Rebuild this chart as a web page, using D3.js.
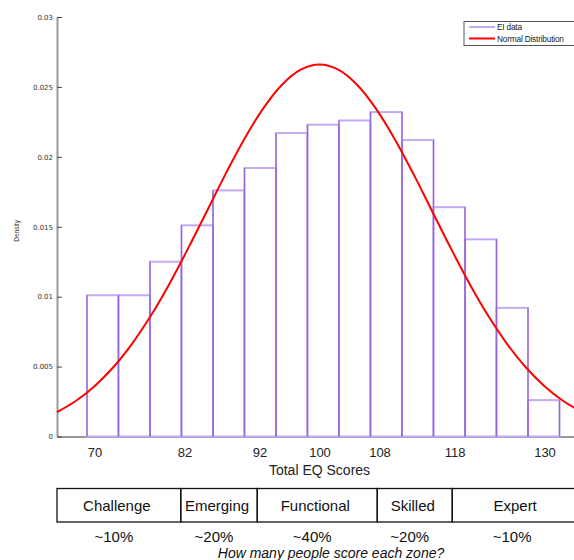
<!DOCTYPE html>
<html>
<head>
<meta charset="utf-8">
<script src="https://cdn.jsdelivr.net/npm/d3@7"></script>
<style>
  body { margin: 0; background: #fff; }
  svg { display: block; }
</style>
</head>
<body>
<div id="chart"></div>
<script>
// histogram bins (score edges) and density per bin
const binStarts = [69, 73.2, 77.4, 81.6, 85.8, 90, 94.2, 98.4, 102.6, 106.8, 111, 115.2, 119.4, 123.6, 127.8]
const binEnds = [73.2, 77.4, 81.6, 85.8, 90, 94.2, 98.4, 102.6, 106.8, 111, 115.2, 119.4, 123.6, 127.8, 132]
const binDensity = [0.0101, 0.0101, 0.0125, 0.0151, 0.0176, 0.0192, 0.0217, 0.0223, 0.0226, 0.0232, 0.0212, 0.0164, 0.0141, 0.0092, 0.0026]

// normal curve
const curveScores = [65, 67.5, 70, 72.5, 75, 77.5, 80, 82.5, 85, 87.5, 90, 92.5, 95, 97.5, 100,
  102.5, 105, 107.5, 110, 112.5, 115, 117.5, 120, 122.5, 125, 127.5, 130, 132.5, 135]
const curveDensity = [0.00175, 0.00254, 0.0036, 0.00495, 0.00663, 0.00863, 0.01093, 0.01347, 0.01613, 0.0188, 0.0213, 0.02347, 0.02516, 0.02623, 0.0266,
  0.02623, 0.02516, 0.02347, 0.0213, 0.0188, 0.01613, 0.01347, 0.01093, 0.00863, 0.00663, 0.00495, 0.0036, 0.00254, 0.00175]

const xTicks = [70, 82, 92, 100, 108, 118, 130]
const yTicks = [0, 0.005, 0.01, 0.015, 0.02, 0.025, 0.03]

const zoneNames = ['Challenge', 'Emerging', 'Functional', 'Skilled', 'Expert']
const zoneStarts = [65, 81.5, 91.7, 107.7, 117.7]
const zoneEnds = [81.5, 91.7, 107.7, 117.7, 135]
const zoneShares = ['~10%', '~20%', '~40%', '~20%', '~10%']

const legendLabels = ['EI data', 'Normal Distribution']
const legendColors = ['#c4aaf0', '#ff0000']

const margin = { top: 17, left: 57, right: 0, bottom: 124 }
const height = 560 - margin.top - margin.bottom + 0.5
const width = 525

const svg = d3
  .select('#chart')
  .append('svg')
  .attr('width', 574)
  .attr('height', 560)
  .append('g')
  .attr('transform', 'translate(' + margin.left + ',' + margin.top + ')')

const xPositionScale = d3.scaleLinear().domain([65, 135]).range([0, width])
const yPositionScale = d3.scaleLinear().domain([0, 0.03]).range([height, 0])

const font = "'Liberation Sans', Arial, sans-serif"

// axes
const xAxis = d3
  .axisBottom(xPositionScale)
  .tickValues(xTicks)
  .tickSize(-4)
  .tickSizeOuter(0)
  .tickPadding(11)
svg
  .append('g')
  .attr('class', 'axis x-axis')
  .attr('transform', 'translate(0,' + height + ')')
  .call(xAxis)

const yAxis = d3
  .axisLeft(yPositionScale)
  .tickValues(yTicks)
  .tickFormat(d => String(+d.toFixed(3)))
  .tickSize(-5)
  .tickSizeOuter(0)
  .tickPadding(4)
svg
  .append('g')
  .attr('class', 'axis y-axis')
  .call(yAxis)

svg.selectAll('.axis .domain').attr('stroke', '#999').attr('stroke-width', 2)
svg.selectAll('.axis .tick line').attr('stroke', '#444')
svg
  .selectAll('.x-axis text')
  .attr('font-family', font)
  .attr('font-size', 13)
  .attr('fill', '#222')
svg
  .selectAll('.y-axis text')
  .attr('font-family', "'DejaVu Sans', sans-serif")
  .attr('font-size', 7)
  .attr('fill', '#333')

// histogram bars
const bins = binDensity.map((d, i) => ({ x0: binStarts[i], x1: binEnds[i], density: d }))

svg
  .selectAll('.bar')
  .data(bins)
  .enter()
  .append('rect')
  .attr('class', 'bar')
  .attr('x', d => xPositionScale(d.x0))
  .attr('y', d => yPositionScale(d.density))
  .attr('width', d => xPositionScale(d.x1) - xPositionScale(d.x0))
  .attr('height', d => height - yPositionScale(d.density))
  .attr('fill', '#fff')
  .attr('stroke', '#c4aaf0')
  .attr('stroke-width', 2)

svg
  .selectAll('.bar-edge')
  .data(bins)
  .enter()
  .append('path')
  .attr('class', 'bar-edge')
  .attr('d', function(d) {
    const y = yPositionScale(d.density)
    return 'M' + xPositionScale(d.x0) + ',' + height + 'V' + y +
      'M' + xPositionScale(d.x1) + ',' + height + 'V' + y
  })
  .attr('stroke', '#9466dc')
  .attr('stroke-width', 1.2)
  .attr('fill', 'none')

// normal curve
const curvePoints = curveScores.map((d, i) => ({ score: d, density: curveDensity[i] }))
const line = d3
  .line()
  .x(d => xPositionScale(d.score))
  .y(d => yPositionScale(d.density))
  .curve(d3.curveCatmullRom)

svg
  .append('path')
  .datum(curvePoints)
  .attr('d', line)
  .attr('stroke', '#ff0000')
  .attr('stroke-width', 2)
  .attr('fill', 'none')

// y label
svg
  .append('text')
  .attr('transform', 'translate(-38,' + (yPositionScale(0.0147)) + ') rotate(-90)')
  .attr('text-anchor', 'middle')
  .attr('font-family', font)
  .attr('font-size', 6.5)
  .attr('fill', '#333')
  .text('Density')

// x label
svg
  .append('text')
  .attr('x', xPositionScale(100))
  .attr('y', height + 38.5)
  .attr('text-anchor', 'middle')
  .attr('font-family', font)
  .attr('font-size', 14)
  .attr('fill', '#222')
  .text('Total EQ Scores')

// legend
const legend = svg.append('g').attr('transform', 'translate(' + (464 - margin.left) + ',' + (21.5 - margin.top) + ')')
legend
  .append('rect')
  .attr('x', 0)
  .attr('y', 0)
  .attr('width', 120)
  .attr('height', 24)
  .attr('fill', '#fff')
  .attr('stroke', '#555')
  .attr('stroke-width', 1)
legendLabels.forEach((label, i) => {
  legend
    .append('line')
    .attr('x1', 5)
    .attr('x2', 31)
    .attr('y1', 5.5 + i * 11.5)
    .attr('y2', 5.5 + i * 11.5)
    .attr('stroke', legendColors[i])
    .attr('stroke-width', 2)
  legend
    .append('text')
    .attr('x', 33)
    .attr('y', 8.5 + i * 11.5)
    .attr('font-family', font)
    .attr('font-size', 8.3)
    .attr('letter-spacing', -0.2)
    .attr('fill', '#222')
    .text(label)
})

// zone table
const zones = zoneNames.map((d, i) => ({ name: d, x0: zoneStarts[i], x1: zoneEnds[i], share: zoneShares[i] }))
const tableTop = 488.5 - margin.top
const tableHeight = 33.5

svg
  .selectAll('.zone-cell')
  .data(zones)
  .enter()
  .append('rect')
  .attr('class', 'zone-cell')
  .attr('x', d => xPositionScale(d.x0))
  .attr('y', tableTop)
  .attr('width', d => xPositionScale(d.x1) - xPositionScale(d.x0))
  .attr('height', tableHeight)
  .attr('fill', 'none')
  .attr('stroke', '#111')
  .attr('stroke-width', 1.3)

svg
  .selectAll('.zone-name')
  .data(zones)
  .enter()
  .append('text')
  .attr('class', 'zone-name')
  .attr('x', d => (xPositionScale(d.x0) + xPositionScale(d.x1)) / 2 - 2)
  .attr('y', tableTop + 22.5)
  .attr('text-anchor', 'middle')
  .attr('font-family', font)
  .attr('font-size', 15)
  .attr('fill', '#111')
  .text(d => d.name)

svg
  .selectAll('.zone-share')
  .data(zones)
  .enter()
  .append('text')
  .attr('class', 'zone-share')
  .attr('x', d => (xPositionScale(d.x0) + xPositionScale(d.x1)) / 2 - 5)
  .attr('y', 542 - margin.top)
  .attr('text-anchor', 'middle')
  .attr('font-family', font)
  .attr('font-size', 15)
  .attr('fill', '#111')
  .text(d => d.share)

svg
  .append('text')
  .attr('x', 331 - margin.left)
  .attr('y', 557.5 - margin.top)
  .attr('text-anchor', 'middle')
  .attr('font-family', font)
  .attr('font-style', 'italic')
  .attr('font-size', 14)
  .attr('fill', '#111')
  .text('How many people score each zone?')
</script>
</body>
</html>
